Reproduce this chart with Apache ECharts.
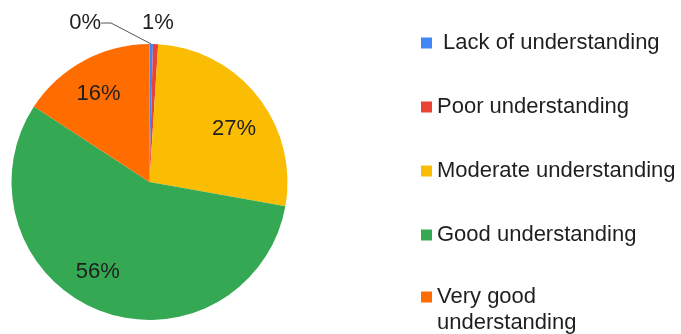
<!DOCTYPE html>
<html>
<head>
<meta charset="utf-8">
<script src="https://cdn.jsdelivr.net/npm/echarts@6/dist/echarts.min.js"></script>
<style>
html,body{margin:0;padding:0;background:#fff;}
#chart{width:681px;height:334px;}
</style>
</head>
<body>
<div id="chart"></div>
<script>
const categories = ['Lack of understanding', 'Poor understanding', 'Moderate understanding', 'Good understanding', 'Very good understanding'];
const values = [0.4, 0.6, 26.8, 56.4, 15.8];
const colors = ['#4285F4', '#EA4335', '#FBBC04', '#34A853', '#FF6D01'];

const FONT = "'Liberation Sans', Arial, sans-serif";
const pct = p => Math.round(p.percent) + '%';
const insideLabelOffsets = [[0, 0], [0, 0], [2, 12], [-13, -8], [-1, 4]];

const chart = echarts.init(document.getElementById('chart'), null, {renderer: 'canvas'});

const mainData = categories.map((n, i) => ({
  name: n,
  value: values[i],
  label: {show: values[i] < 5},
  labelLine: {show: i === 0}
}));
const ringData = categories.map((n, i) => ({
  name: n,
  value: values[i],
  label: {show: values[i] >= 5, offset: insideLabelOffsets[i]}
}));

chart.setOption({
  animation: false,
  color: colors,
  legend: [
    {
      data: categories.slice(0, 4),
      orient: 'vertical',
      left: 421, top: 30, padding: 0,
      itemWidth: 11, itemHeight: 11, itemGap: 38,
      icon: 'rect',
      formatter: name => name === categories[0] ? ' ' + name : name,
      textStyle: {fontSize: 22, color: '#1f1f1f', lineHeight: 26, fontFamily: FONT}
    },
    {
      data: categories.slice(4),
      orient: 'vertical',
      left: 421, top: 258, padding: 0,
      itemWidth: 11, itemHeight: 11,
      icon: 'rect',
      formatter: name => '\n' + name.replace(/ (\S+)$/, '\n$1'),
      textStyle: {fontSize: 22, color: '#1f1f1f', lineHeight: 26, fontFamily: FONT}
    }
  ],
  series: [
    {
      type: 'pie',
      center: [149.5, 182],
      radius: 138,
      startAngle: 90,
      clockwise: true,
      avoidLabelOverlap: false,
      data: mainData,
      label: {
        position: 'outside',
        formatter: pct,
        fontSize: 22,
        color: '#1f1f1f',
        fontFamily: FONT
      },
      labelLine: {length: 15, length2: 10, lineStyle: {color: '#555', width: 1}},
      labelLayout: function (p) {
        if (p.dataIndex === 0) return {x: 101, y: 23, align: 'right', verticalAlign: 'middle'};
        if (p.dataIndex === 1) return {x: 158, y: 23, align: 'center', verticalAlign: 'middle'};
      },
      emphasis: {disabled: true}
    },
    {
      type: 'pie',
      center: [149.5, 182],
      radius: [66, 138],
      startAngle: 90,
      clockwise: true,
      silent: true,
      avoidLabelOverlap: false,
      data: ringData,
      itemStyle: {color: 'rgba(0,0,0,0)'},
      label: {
        position: 'inside',
        formatter: pct,
        fontSize: 22,
        color: '#1f1f1f',
        fontFamily: FONT
      },
      labelLine: {show: false},
      emphasis: {disabled: true}
    }
  ]
});
</script>
</body>
</html>
